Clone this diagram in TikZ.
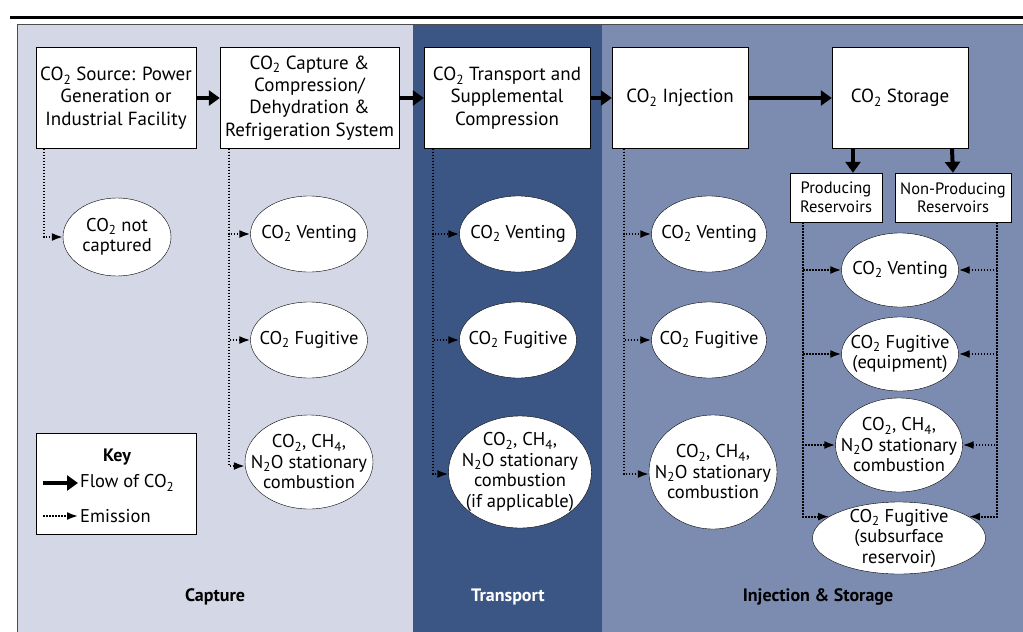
\documentclass[tikz,border=0pt]{standalone}
\usepackage{fontspec}
\setmainfont{PT Sans}
\usetikzlibrary{shapes.geometric,arrows.meta}
\definecolor{capture-bg}{RGB}{212,216,230}
\definecolor{transport-bg}{RGB}{59,86,133}
\definecolor{storage-bg}{RGB}{124,140,177}
\newcommand{\cotwo}{CO\textsubscript{2}}
\tikzset{
    stage-box/.style = {draw, fill=white, thin, rectangle, align=center, inner sep=2pt, minimum height=101pt, font=\fontsize{19}{22.3}\selectfont},
    reservoir-box/.style = {draw, fill=white, thin, rectangle, align=center, inner sep=2pt, minimum height=49pt, font=\fontsize{16.5}{18.5}\selectfont},
    emission-text/.style = {align=center, inner sep=0pt, font=\fontsize{18.5}{20.5}\selectfont},
    emission-node/.style = {draw, fill=white, thin, ellipse, inner sep=0pt, label={[emission-text]center:#1}},
    flow-arrow/.style = {line width=4pt, -{Triangle[length=11pt,width=15pt]}},
    emission-arrow/.style = {line width=1.8pt, dash pattern=on 1.5pt off 1.5pt, -{Latex[length=11pt,width=8pt]}},
    panel-label/.style = {font=\fontsize{18}{20}\selectfont\bfseries},
    key-text/.style = {anchor=west, inner sep=2pt, font=\fontsize{18.5}{20}\selectfont},
}

\begin{document}
\begin{tikzpicture}[x=1pt, y=-1pt]
\useasboundingbox (0,0) rectangle (1023,632);
\fill[capture-bg] (17,24) rectangle (413,632);
\fill[transport-bg] (413,24) rectangle (602,632);
\fill[storage-bg] (602,24) rectangle (1023,632);
\draw[gray!60!black] (17,632) -- (17,24) -- (1023,24);
\draw[line width=3.5pt] (10,17.5) -- (1023,17.5);

\node[stage-box, minimum width=160pt] (source) at (116,98) {\cotwo{} Source: Power\\Generation or\\Industrial Facility};
\node[stage-box, minimum width=179pt] (capture) at (309.5,98) {\cotwo{} Capture \&\\Compression/\\Dehydration \&\\Refrigeration System};
\node[stage-box, minimum width=166pt] (transport) at (507,98) {\cotwo{} Transport and\\Supplemental\\Compression};
\node[stage-box, minimum width=136pt] (injection) at (680,98) {\cotwo{} Injection};
\node[stage-box, minimum width=136pt] (storage) at (900,98) {\cotwo{} Storage};
\node[reservoir-box, minimum width=92pt] (producing) at (836,197.5) {Producing\\Reservoirs};
\node[reservoir-box, minimum width=116pt] (non-producing) at (953,197.5) {Non-Producing\\Reservoirs};

\draw[flow-arrow] (source) -- (capture);
\draw[flow-arrow] (capture) -- (transport);
\draw[flow-arrow] (transport) -- (injection);
\draw[flow-arrow] (injection) -- (storage);
\draw[flow-arrow] ([xshift=-47pt]storage.south) -- ([xshift=17pt]producing.north);
\draw[flow-arrow] ([xshift=52pt]storage.south) -- (non-producing.north);

\node[emission-node={\cotwo{} not\\captured}, minimum width=108pt, minimum height=78pt] (not-captured) at (117,237) {};
\node[emission-node={\cotwo{} Venting}, minimum width=117pt, minimum height=76pt] (cap-venting) at (309,234) {};
\node[emission-node={\cotwo{} Fugitive}, minimum width=117pt, minimum height=76pt] (cap-fugitive) at (309,340) {};
\node[emission-node={\cotwo, CH\textsubscript{4},\\N\textsubscript{2}O stationary\\combustion}, minimum width=128pt, minimum height=94pt] (cap-combustion) at (309,462) {};
\node[emission-node={\cotwo{} Venting}, minimum width=117pt, minimum height=76pt] (tr-venting) at (518,234) {};
\node[emission-node={\cotwo{} Fugitive}, minimum width=117pt, minimum height=76pt] (tr-fugitive) at (518,340) {};
\node[emission-node={\cotwo, CH\textsubscript{4},\\N\textsubscript{2}O stationary\\combustion\\(if applicable)}, minimum width=143pt, minimum height=112pt] (tr-combustion) at (520,472) {};
\node[emission-node={\cotwo{} Venting}, minimum width=115pt, minimum height=76pt] (inj-venting) at (709,234) {};
\node[emission-node={\cotwo{} Fugitive}, minimum width=115pt, minimum height=76pt] (inj-fugitive) at (709,340) {};
\node[emission-node={\cotwo, CH\textsubscript{4},\\N\textsubscript{2}O stationary\\combustion}, minimum width=128pt, minimum height=114pt] (inj-combustion) at (713,472) {};
\node[emission-node={\cotwo{} Venting}, minimum width=117pt, minimum height=74pt] (st-venting) at (900,270) {};
\node[emission-node={\cotwo{} Fugitive\\(equipment)}, minimum width=117pt, minimum height=74pt] (st-equipment) at (900,354) {};
\node[emission-node={\cotwo, CH\textsubscript{4},\\N\textsubscript{2}O stationary\\combustion}, minimum width=127pt, minimum height=94pt] (st-combustion) at (899,445) {};
\node[emission-node={\cotwo{} Fugitive\\(subsurface\\reservoir)}, minimum width=173pt, minimum height=72pt] (st-subsurface) at (899,538) {};

\coordinate (source-drop) at ([xshift=8pt]source.south west);
\coordinate (capture-drop) at ([xshift=9pt]capture.south west);
\coordinate (transport-drop) at ([xshift=9pt]transport.south west);
\coordinate (injection-drop) at ([xshift=12pt]injection.south west);
\coordinate (producing-drop) at ([xshift=13pt]producing.south west);
\coordinate (non-producing-drop) at ([xshift=-14pt]non-producing.south east);

\draw[emission-arrow] (source-drop) |- (not-captured.west);
\draw[emission-arrow] (capture-drop) |- (cap-venting.west);
\draw[emission-arrow] (capture-drop) |- (cap-fugitive.west);
\draw[emission-arrow] (capture-drop) |- ([yshift=-4pt]cap-combustion.west);
\draw[emission-arrow] (transport-drop) |- (tr-venting.west);
\draw[emission-arrow] (transport-drop) |- (tr-fugitive.west);
\draw[emission-arrow] (transport-drop) |- ([yshift=-2pt]tr-combustion.west);
\draw[emission-arrow] (injection-drop) |- (inj-venting.west);
\draw[emission-arrow] (injection-drop) |- (inj-fugitive.west);
\draw[emission-arrow] (injection-drop) |- ([yshift=-2pt]inj-combustion.west);
\draw[emission-arrow] (producing-drop) |- (st-venting.west);
\draw[emission-arrow] (producing-drop) |- (st-equipment.west);
\draw[emission-arrow] (producing-drop) |- (st-combustion.west);
\draw[emission-arrow] (producing-drop) |- (st-subsurface.163);
\draw[emission-arrow] (non-producing-drop) |- (st-venting.east);
\draw[emission-arrow] (non-producing-drop) |- (st-equipment.east);
\draw[emission-arrow] (non-producing-drop) |- (st-combustion.east);
\draw[emission-arrow] (non-producing-drop) |- (st-subsurface.17);

\node[draw, fill=white, minimum width=160pt, minimum height=101pt] (key) at (116,483.5) {};
\node[font=\fontsize{18}{20}\selectfont\bfseries] (key-title) at (117,457) {Key};
\node[key-text] (flow-label) at (78,483) {Flow of \cotwo};
\node[key-text] (emission-label) at (78,516) {Emission};
\coordinate (flow-start) at (43,483);
\coordinate (emission-start) at (43,516);
\draw[flow-arrow] (flow-start) -- (flow-label.west);
\draw[emission-arrow] (emission-start) -- (emission-label.west);

\node[panel-label] (capture-label) at (215,597) {Capture};
\node[panel-label, text=white] (transport-label) at (508,597) {Transport};
\node[panel-label] (storage-label) at (818,597) {Injection \& Storage};
\end{tikzpicture}
\end{document}
